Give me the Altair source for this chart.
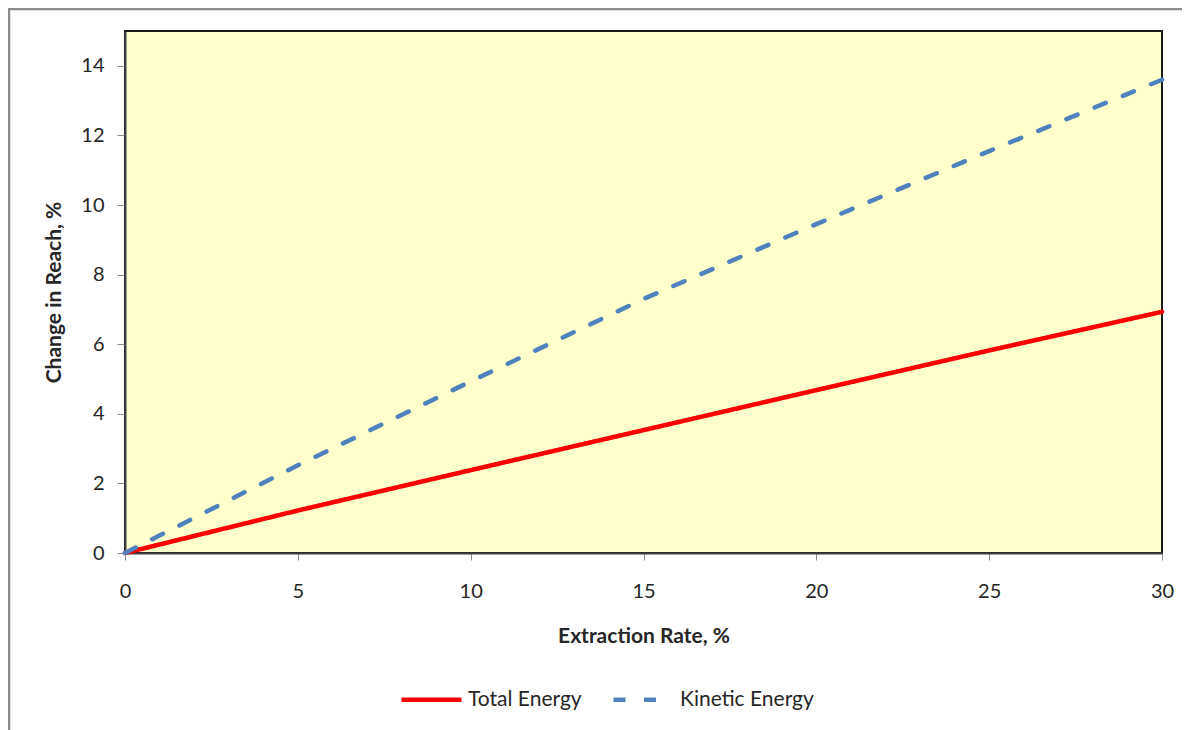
import altair as alt
import pandas as pd

# Data
extraction_rate = [0, 5, 10, 15, 20, 25, 30]
total_energy = [0, 1.22, 2.38, 3.53, 4.68, 5.82, 6.93]
kinetic_energy = [0, 2.52, 4.93, 7.30, 9.45, 11.55, 13.60]
series_names = ["Total Energy", "Kinetic Energy"]
x_ticks = [0, 5, 10, 15, 20, 25, 30]
y_ticks = [0, 2, 4, 6, 8, 10, 12, 14]

rows = []
for name, vals in zip(series_names, [total_energy, kinetic_energy]):
    for xv, yv in zip(extraction_rate, vals):
        rows.append({"x": xv, "y": yv, "series": name})
df = pd.DataFrame(rows)

FONT = "Lato"
TXT = "#262626"

legend_kw = dict(orient="none", legendX=274, legendY=636, direction="horizontal",
                 title=None, symbolType="stroke", symbolSize=3600,
                 symbolStrokeWidth=4.5, labelFont=FONT, labelFontSize=21,
                 labelColor=TXT, columnPadding=22, labelOffset=4, padding=0)

lines = alt.Chart(df).mark_line(strokeWidth=4.5, strokeCap="round").encode(
    x=alt.X("x:Q", scale=alt.Scale(domain=[0, 30], nice=False),
            axis=alt.Axis(title="Extraction Rate, %", values=x_ticks, format="d",
                          tickSize=7, labelPadding=21, titlePadding=24, labelFlush=False)),
    y=alt.Y("y:Q", scale=alt.Scale(domain=[0, 15], nice=False),
            axis=alt.Axis(title="Change in Reach, %", values=y_ticks, format="d",
                          tickSize=8, labelPadding=13, titlePadding=16, labelFlush=False)),
    color=alt.Color("series:N", scale=alt.Scale(domain=series_names, range=["#FF0000", "#4F81BD"]),
                    legend=alt.Legend(**legend_kw)),
    strokeDash=alt.StrokeDash("series:N", scale=alt.Scale(domain=series_names, range=[[1, 0], [12, 18.5]]),
                              legend=alt.Legend(**legend_kw)),
)

border_top = alt.Chart(pd.DataFrame({"a": [0]})).mark_rule(color="#8c8c8c", strokeWidth=2.5).encode(
    x=alt.value(-117), x2=alt.value(1060), y=alt.value(-22)
)
border_left = alt.Chart(pd.DataFrame({"a": [0]})).mark_rule(color="#8c8c8c", strokeWidth=2.5).encode(
    x=alt.value(-116), y=alt.value(-23), y2=alt.value(710)
)

chart = alt.layer(border_top, border_left, lines).properties(
    width=1037, height=522,
    autosize=alt.AutoSizeParams(type="none"),
    padding={"left": 117, "top": 23, "right": 20, "bottom": 177},
).configure_view(
    fill="#FFFFCC", stroke="#1a1a1a", strokeWidth=2
).configure_axis(
    grid=False, domainColor="#404040", domainWidth=2,
    tickColor="#8c8c8c", tickWidth=1,
    labelFont=FONT, labelFontSize=20, labelColor=TXT,
    titleFont=FONT, titleFontSize=21, titleFontWeight="bold", titleColor=TXT,
)

chart.save("out.html", embed_options={"renderer": "svg", "actions": False})
